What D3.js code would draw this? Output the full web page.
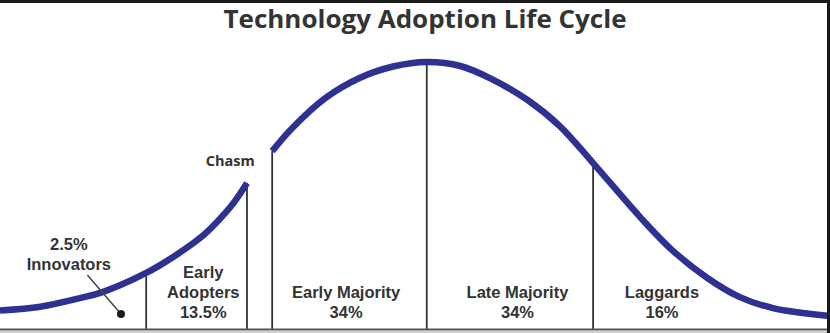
<!DOCTYPE html>
<html>
<head>
<meta charset="utf-8">
<script src="https://cdn.jsdelivr.net/npm/d3@7"></script>
<style>
  body { margin: 0; background: #fff; }
  svg { display: block; }
</style>
</head>
<body>
<div class="chart"></div>
<script>
const width = 830;
const height = 333;

// adoption curve:
// x in standard deviations from the mean, y as a share of the peak
const earlyCurveX = [-2.54, -2.30, -2.06, -1.93, -1.67, -1.50, -1.35, -1.25, -1.15, -1.07];
const earlyCurveY = [0.066, 0.080, 0.113, 0.135, 0.207, 0.271, 0.338, 0.398, 0.470, 0.545];
const mainCurveX = [-0.92, -0.80, -0.60, -0.40, -0.20, 0, 0.20, 0.39, 0.60, 0.79, 0.99, 1.27, 1.46, 1.67, 1.86, 2.06, 2.40];
const mainCurveY = [0.665, 0.752, 0.866, 0.940, 0.983, 1.0, 0.985, 0.935, 0.857, 0.760, 0.620, 0.417, 0.293, 0.188, 0.117, 0.075, 0.045];

// dividers between groups (x and where they meet the curve)
const dividerX = [-1.67, -1.07, -0.92, 0, 0.99];
const dividerTop = [0.207, 0.545, 0.665, 1.0, 0.620];

const groupNames = [["Early", "Adopters"], ["Early Majority"], ["Late Majority"], ["Laggards"]];
const groupShares = ["13.5%", "34%", "34%", "16%"];
const groupLabelX = [-1.33, -0.48, 0.54, 1.40];

const innovatorName = "Innovators";
const innovatorShare = "2.5%";
const innovatorLabelX = -2.13;
const innovatorPointer = [[-2.02, 0.199], [-1.82, 0.053]];

const chasmLabel = "Chasm";
const chasmLabelX = -1.17;
const title = "Technology Adoption Life Cycle";

const svg = d3
  .select(".chart")
  .append("svg")
  .attr("width", width)
  .attr("height", height);

svg.append("rect").attr("width", width).attr("height", height).attr("fill", "#fff");

const x = d3.scaleLinear().domain([-2.54, 2.40]).range([0, width]);
const y = d3.scaleLinear().domain([0, 1]).range([328, 62]);

const labelFont = "'Liberation Sans', Arial, Helvetica, sans-serif";

// title
svg
  .append("text")
  .attr("x", 425)
  .attr("y", 28)
  .attr("text-anchor", "middle")
  .attr("textLength", 403)
  .attr("lengthAdjust", "spacingAndGlyphs")
  .style("font-family", "'Open Sans', sans-serif")
  .style("font-weight", 700)
  .style("font-size", "25px")
  .style("fill", "#333")
  .text(title);

// dividers
svg
  .selectAll(".divider")
  .data(dividerX)
  .enter()
  .append("line")
  .attr("class", "divider")
  .attr("x1", d => x(d))
  .attr("x2", d => x(d))
  .attr("y1", (d, i) => y(dividerTop[i]))
  .attr("y2", y(0) + 1)
  .attr("stroke", "#333")
  .attr("stroke-width", 1.8);

// baseline
svg
  .append("line")
  .attr("x1", 0)
  .attr("x2", width)
  .attr("y1", y(0) + 1.5)
  .attr("y2", y(0) + 1.5)
  .attr("stroke", "#555")
  .attr("stroke-width", 2);
svg
  .append("rect")
  .attr("x", 0)
  .attr("y", y(0) + 3)
  .attr("width", width)
  .attr("height", 3)
  .attr("fill", "#d0d0d0");

// curve
const line = d3
  .line()
  .x(d => x(d[0]))
  .y(d => y(d[1]))
  .curve(d3.curveCatmullRom.alpha(0.5));

const segments = [
  earlyCurveX.map((d, i) => [d, earlyCurveY[i]]),
  mainCurveX.map((d, i) => [d, mainCurveY[i]])
];

svg
  .selectAll(".curve")
  .data(segments)
  .enter()
  .append("path")
  .attr("class", "curve")
  .attr("d", line)
  .attr("fill", "none")
  .attr("stroke", "#2e3192")
  .attr("stroke-width", 6.5)
  .attr("stroke-linecap", "butt");

// group labels
groupNames.forEach((name, i) => {
  const lines = name.concat([groupShares[i]]);
  lines.forEach((t, j) => {
    svg
      .append("text")
      .attr("x", x(groupLabelX[i]))
      .attr("y", 318 - (lines.length - 1 - j) * 20)
      .attr("text-anchor", "middle")
      .style("font-family", labelFont)
      .style("font-weight", 700)
      .style("font-size", "16.5px")
      .style("fill", "#333")
      .text(t);
  });
});

// innovators label and pointer
[innovatorShare, innovatorName].forEach((t, j) => {
  svg
    .append("text")
    .attr("x", x(innovatorLabelX))
    .attr("y", 250 + j * 20)
    .attr("text-anchor", "middle")
    .style("font-family", labelFont)
    .style("font-weight", 700)
    .style("font-size", "16.5px")
    .style("fill", "#333")
    .text(t);
});

svg
  .append("line")
  .attr("x1", x(innovatorPointer[0][0]))
  .attr("y1", y(innovatorPointer[0][1]))
  .attr("x2", x(innovatorPointer[1][0]))
  .attr("y2", y(innovatorPointer[1][1]))
  .attr("stroke", "#444")
  .attr("stroke-width", 1.5);

svg
  .append("circle")
  .attr("cx", x(innovatorPointer[1][0]))
  .attr("cy", y(innovatorPointer[1][1]))
  .attr("r", 4)
  .attr("fill", "#1a1a1a");

// chasm
svg
  .append("text")
  .attr("x", x(chasmLabelX))
  .attr("y", 166)
  .attr("text-anchor", "middle")
  .style("font-family", "'Open Sans', sans-serif")
  .style("font-weight", 700)
  .style("font-size", "14.5px")
  .style("fill", "#333")
  .text(chasmLabel);

// dark frame edges of the screenshot
svg.append("rect").attr("x", 0).attr("y", 0).attr("width", width).attr("height", 3).attr("fill", "#1a1a1a");
svg.append("rect").attr("x", width - 3).attr("y", 0).attr("width", 3).attr("height", height).attr("fill", "#1a1a1a");
</script>
</body>
</html>
